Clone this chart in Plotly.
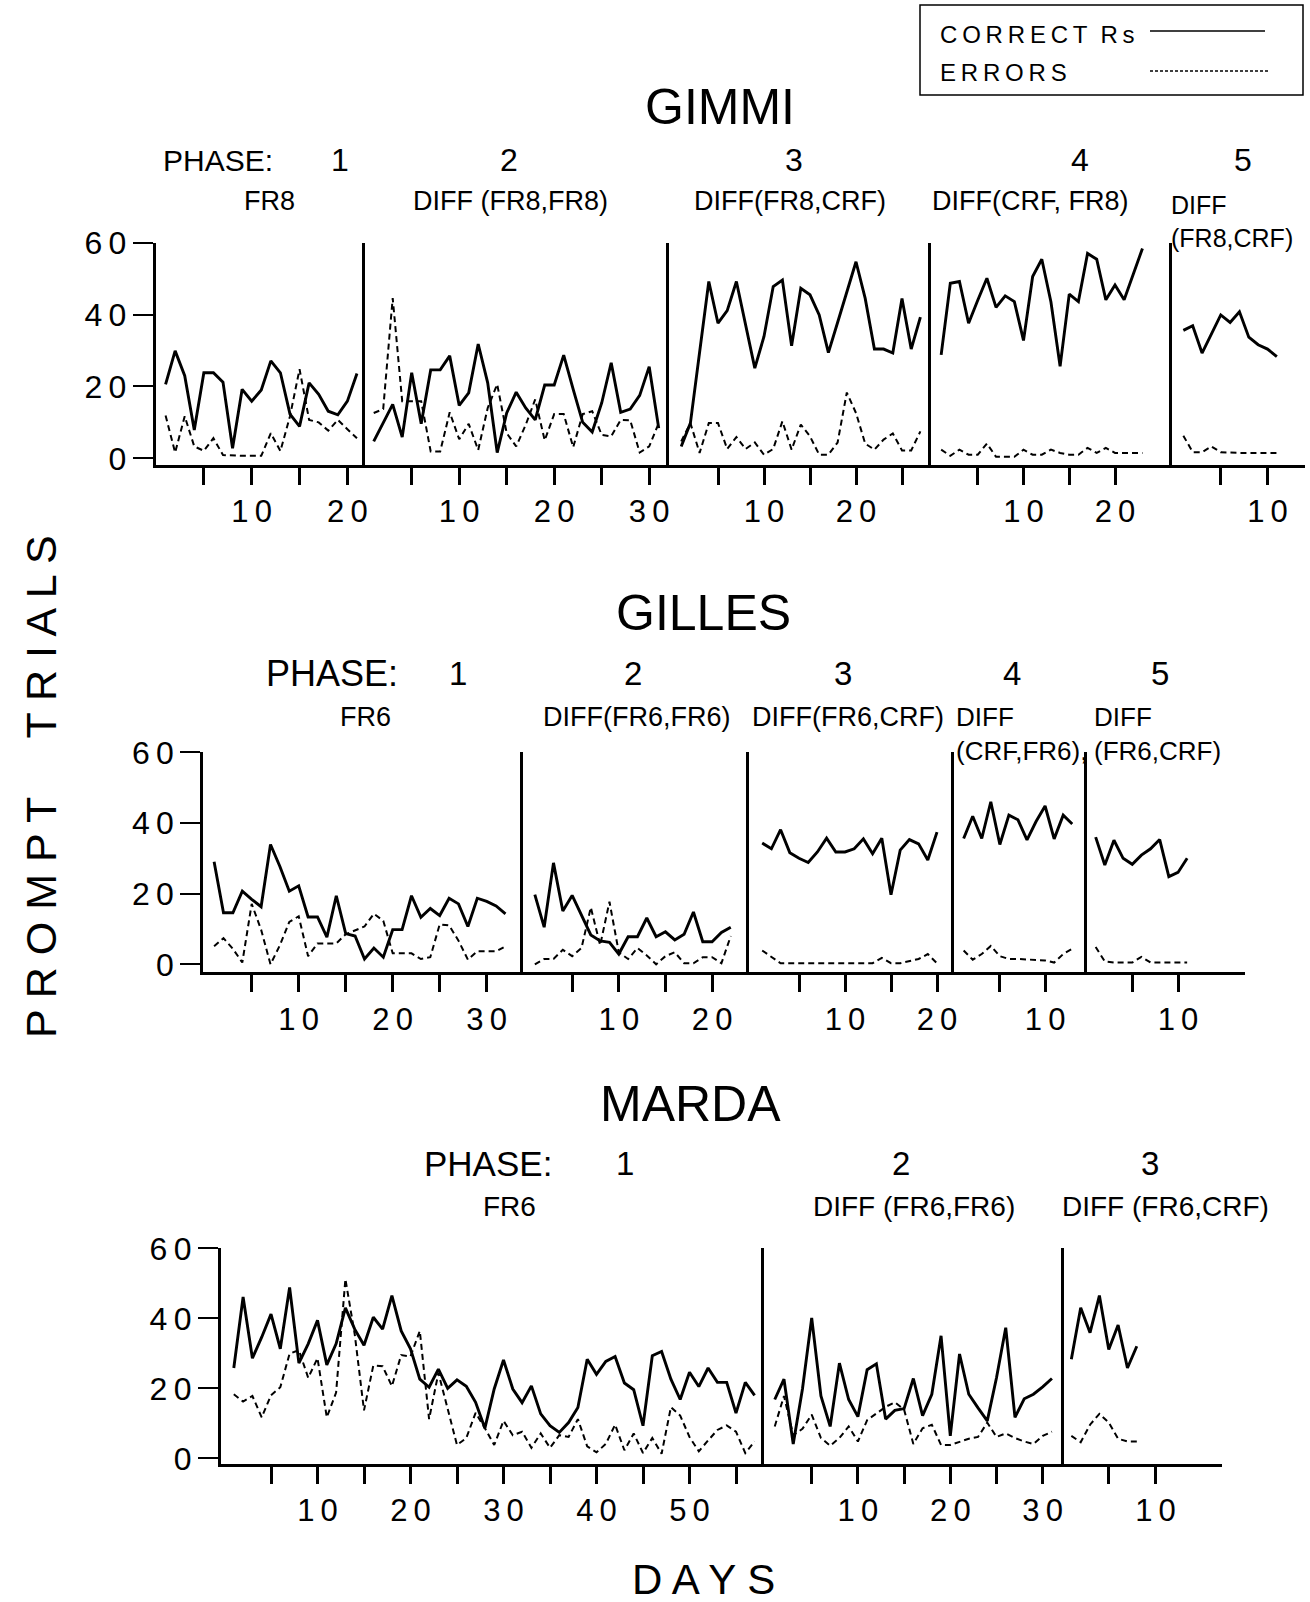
import plotly.graph_objects as go

W, H = 1310, 1602

# ---------------- data ----------------
# GIMMI
gimmi_p1_correct = [20.6, 29.9, 23.0, 7.9, 23.8, 23.8, 21.2, 2.8, 19.2, 15.9, 19.0, 27.1, 23.8, 12.3, 8.9, 21.0, 17.8, 13.1, 12.1, 15.9, 23.6]
gimmi_p1_errors = [11.9, 1.6, 11.7, 3.3, 2.1, 5.6, 0.9, 0.7, 0.7, 0.7, 0.7, 7.0, 2.0, 11.7, 24.8, 10.7, 10.0, 7.7, 10.7, 8.1, 5.6]
gimmi_p2_correct = [4.7, 10.0, 15.0, 5.9, 23.8, 9.6, 24.6, 24.6, 28.5, 14.7, 18.2, 31.8, 21.0, 1.6, 12.6, 18.4, 14.0, 10.7, 20.4, 20.4, 28.7, 19.2, 10.0, 7.3, 15.4, 26.6, 12.8, 13.7, 17.5, 25.5, 8.4]
gimmi_p2_errors = [12.6, 13.7, 44.6, 15.9, 15.9, 15.9, 1.9, 1.9, 12.8, 5.3, 9.6, 2.3, 14.0, 20.6, 7.0, 3.3, 9.3, 16.4, 5.0, 12.3, 12.3, 3.1, 12.3, 13.1, 6.5, 6.1, 10.7, 10.6, 1.6, 3.3, 9.8]
gimmi_p3_correct = [3.3, 9.8, 29.5, 49.2, 37.6, 41.1, 49.2, 37.1, 25.1, 33.9, 47.8, 49.6, 31.3, 47.3, 45.5, 39.9, 29.4, 37.8, 46.4, 54.7, 44.5, 30.4, 30.4, 29.3, 44.5, 30.4, 39.3]
gimmi_p3_errors = [4.7, 9.8, 1.5, 9.8, 9.8, 2.6, 5.9, 2.6, 4.4, 1.0, 2.6, 10.3, 2.4, 9.4, 6.1, 1.0, 1.0, 4.4, 18.3, 12.6, 4.1, 2.4, 5.2, 6.9, 2.2, 2.2, 7.5]
gimmi_p4_correct = [28.8, 48.7, 49.2, 37.6, 44.0, 50.1, 42.0, 45.2, 43.6, 32.8, 50.6, 55.4, 43.5, 25.6, 45.7, 43.6, 57.0, 55.4, 44.1, 48.2, 44.1, 51.5, 58.4]
gimmi_p4_errors = [2.4, 0.7, 2.4, 1.0, 1.0, 4.1, 0.4, 0.4, 0.4, 2.4, 1.0, 1.0, 2.4, 1.5, 1.0, 1.0, 2.9, 1.5, 2.9, 1.5, 1.5, 1.5, 1.5]
gimmi_p5_correct = [35.6, 36.9, 29.3, 34.8, 39.9, 37.8, 40.8, 33.7, 31.6, 30.4, 28.3]
gimmi_p5_errors = [6.3, 1.7, 1.7, 3.3, 1.7, 1.5, 1.5, 1.5, 1.5, 1.5, 1.5]

# GILLES
gilles_p1_correct = [29.0, 14.6, 14.6, 20.7, 18.4, 16.3, 33.9, 27.7, 20.7, 22.2, 13.4, 13.4, 7.7, 19.4, 8.7, 8.0, 1.5, 4.6, 2.0, 9.8, 9.8, 19.4, 13.3, 15.8, 13.8, 18.7, 17.1, 10.7, 18.7, 17.8, 16.5, 14.3]
gilles_p1_errors = [5.1, 7.4, 4.4, 0.5, 17.1, 9.8, 0.0, 5.4, 12.0, 13.6, 2.3, 5.9, 5.9, 5.9, 8.5, 9.7, 10.7, 14.3, 12.3, 3.1, 3.1, 3.1, 1.5, 2.0, 11.3, 11.0, 6.7, 1.3, 3.7, 3.7, 3.7, 5.1]
gilles_p2_correct = [19.7, 10.5, 28.7, 15.1, 19.5, 14.1, 8.3, 6.6, 6.2, 2.9, 7.8, 7.8, 13.1, 7.8, 9.2, 6.9, 8.5, 14.8, 6.4, 6.4, 9.0, 10.5]
gilles_p2_errors = [0.0, 1.5, 1.5, 4.1, 2.3, 4.6, 16.1, 5.4, 17.7, 3.4, 1.5, 4.6, 2.5, 0.0, 2.3, 3.4, 0.3, 0.3, 2.0, 2.0, 0.3, 8.0]
gilles_p3_correct = [34.3, 32.7, 38.1, 31.6, 30.0, 28.8, 31.8, 35.7, 31.8, 31.8, 32.7, 35.5, 31.3, 35.7, 19.7, 32.3, 35.3, 34.1, 29.5, 37.4]
gilles_p3_errors = [3.9, 2.1, 0.3, 0.3, 0.3, 0.3, 0.3, 0.3, 0.3, 0.3, 0.3, 0.3, 0.3, 1.8, 0.3, 0.3, 0.8, 1.5, 2.9, 0.3]
gilles_p4_correct = [35.6, 41.9, 35.6, 46.0, 33.9, 42.2, 40.9, 35.2, 40.4, 44.8, 35.5, 42.2, 39.7]
gilles_p4_errors = [3.9, 1.3, 2.9, 5.2, 2.3, 1.5, 1.5, 1.3, 1.3, 1.1, 0.5, 2.9, 4.4]
gilles_p5_correct = [36.0, 28.1, 35.1, 30.0, 28.3, 30.9, 32.7, 35.3, 24.8, 26.0, 30.0]
gilles_p5_errors = [4.9, 0.8, 0.5, 0.5, 0.5, 2.1, 0.5, 0.5, 0.5, 0.5, 0.5]

# MARDA
marda_p1_correct = [25.8, 46.1, 28.6, 34.6, 41.2, 31.3, 48.8, 27.2, 32.7, 39.4, 26.7, 32.7, 43.0, 36.9, 32.3, 40.3, 36.9, 46.5, 36.4, 31.3,
                    22.6, 20.3, 25.5, 20.0, 22.4, 20.6, 16.0, 8.6, 19.8, 28.1, 19.8, 15.9, 20.7, 12.7, 9.3, 7.4, 10.2, 14.5, 28.3, 24.0,
                    27.7, 29.1, 21.5, 19.6, 9.3, 29.3, 30.5, 22.6, 16.8, 24.6, 20.5, 25.8, 21.7, 21.7, 12.9, 21.7, 18.0]
marda_p1_errors = [18.3, 16.2, 17.8, 11.7, 18.0, 20.3, 29.9, 30.9, 23.0, 28.6, 11.7, 18.8, 51.2, 35.5, 13.7, 26.5, 26.3, 20.6, 29.5, 29.1,
                   36.4, 11.2, 24.4, 13.7, 3.8, 5.8, 13.0, 8.6, 3.8, 10.7, 6.6, 7.6, 3.0, 7.1, 3.0, 6.6, 6.1, 11.2, 3.4, 1.7,
                   4.1, 9.6, 2.3, 7.1, 1.5, 5.8, 1.3, 14.6, 12.2, 6.1, 2.0, 5.1, 8.1, 9.4, 7.6, 1.5, 4.8]
marda_p2_correct = [16.8, 22.6, 4.1, 19.8, 40.1, 17.8, 9.1, 27.2, 16.8, 11.9, 25.3, 27.0, 11.2, 13.7, 14.2, 22.8, 12.2, 18.3, 35.0, 6.4,
                    29.8, 18.3, 14.4, 10.7, 23.0, 37.3, 11.7, 17.0, 18.3, 20.4, 22.8]
marda_p2_errors = [9.1, 17.8, 6.6, 8.4, 12.5, 5.8, 3.6, 5.8, 9.1, 4.8, 10.9, 12.8, 14.7, 16.0, 13.9, 4.1, 8.6, 9.6, 3.8, 3.8,
                   4.8, 5.6, 6.1, 10.2, 6.1, 7.1, 5.8, 4.8, 4.1, 6.4, 7.6]
marda_p3_correct = [28.3, 43.0, 35.9, 46.5, 31.1, 38.1, 25.8, 32.0]
marda_p3_errors = [6.4, 4.6, 9.6, 12.7, 10.2, 5.6, 4.8, 4.8]

y_tick_values = [0, 20, 40, 60]
gimmi_last_ticks = [20, 30, 25, 20, 10]
gilles_last_ticks = [30, 20, 20, 10, 10]
marda_last_ticks = [55, 30, 10]

gimmi_phase_nums = ["1", "2", "3", "4", "5"]
gimmi_phase_names = ["FR8", "DIFF (FR8,FR8)", "DIFF(FR8,CRF)", "DIFF(CRF, FR8)", "DIFF<br>(FR8,CRF)"]
gilles_phase_nums = ["1", "2", "3", "4", "5"]
gilles_phase_names = ["FR6", "DIFF(FR6,FR6)", "DIFF(FR6,CRF)", "DIFF<br>(CRF,FR6),", "DIFF<br>(FR6,CRF)"]
marda_phase_nums = ["1", "2", "3"]
marda_phase_names = ["FR6", "DIFF (FR6,FR6)", "DIFF (FR6,CRF)"]

# ---------------- layout geometry (pixels) ----------------
FONT = "Liberation Sans"
THIN = "\u2009"
def spaced(s):
    return THIN.join(list(s))
def px(x):
    return x / W
def py(y):
    return 1 - y / H

panels = [
    dict(name="GIMMI", y60=242.7, y0=458.3, ymin=-1.9,
         phases=[(155.8, 364.8, 156.0, 9.57), (364.8, 669.3, 364.2, 9.5), (669.3, 931.2, 672.0, 9.2),
                 (931.2, 1172.0, 932.0, 9.15), (1172.0, 1305.0, 1174.0, 9.35)],
         data=[(gimmi_p1_correct, gimmi_p1_errors), (gimmi_p2_correct, gimmi_p2_errors), (gimmi_p3_correct, gimmi_p3_errors),
               (gimmi_p4_correct, gimmi_p4_errors), (gimmi_p5_correct, gimmi_p5_errors)],
         last_ticks=gimmi_last_ticks),
    dict(name="GILLES", y60=752.3, y0=964.3, ymin=-2.3,
         phases=[(203.3, 522.8, 204.7, 9.4), (522.8, 749.1, 525.5, 9.33), (749.1, 954.0, 753.0, 9.2),
                 (954.0, 1086.7, 954.6, 9.05), (1086.7, 1245.0, 1086.5, 9.15)],
         data=[(gilles_p1_correct, gilles_p1_errors), (gilles_p2_correct, gilles_p2_errors), (gilles_p3_correct, gilles_p3_errors),
               (gilles_p4_correct, gilles_p4_errors), (gilles_p5_correct, gilles_p5_errors)],
         last_ticks=gilles_last_ticks),
    dict(name="MARDA", y60=1248.3, y0=1458.3, ymin=-1.5,
         phases=[(221.0, 764.3, 224.5, 9.3), (764.3, 1064.0, 765.5, 9.24), (1064.0, 1222.0, 1062.0, 9.35)],
         data=[(marda_p1_correct, marda_p1_errors), (marda_p2_correct, marda_p2_errors), (marda_p3_correct, marda_p3_errors)],
         last_ticks=marda_last_ticks),
]

fig = go.Figure()
layout = {}
k = 0
for panel in panels:
    ppu = (panel["y0"] - panel["y60"]) / 60.0
    ybot = panel["y0"] - panel["ymin"] * ppu
    ydom = [py(ybot), py(panel["y60"])]
    for i, ((left, right, day0, ppd), (corr, err), last) in enumerate(
            zip(panel["phases"], panel["data"], panel["last_ticks"])):
        k += 1
        xa = "xaxis" if k == 1 else f"xaxis{k}"
        ya = "yaxis" if k == 1 else f"yaxis{k}"
        xr = "x" if k == 1 else f"x{k}"
        yr = "y" if k == 1 else f"y{k}"
        r0 = (left - day0) / ppd
        r1 = (right - day0) / ppd
        tv = list(range(5, last + 1, 5))
        tt = [spaced(str(v)) if v % 10 == 0 else "" for v in tv]
        layout[xa] = dict(domain=[px(left), px(right)], range=[r0, r1], anchor=yr,
                          showgrid=False, zeroline=False, showline=True, linewidth=3, linecolor="black",
                          ticks="outside", ticklen=17, tickwidth=3, tickcolor="black",
                          tickvals=tv, ticktext=tt, automargin=False,
                          tickfont=dict(family=FONT, size=31, color="black"))
        yd = dict(domain=ydom, range=[panel["ymin"], 60], anchor=xr,
                  showgrid=False, zeroline=False, showline=True, linewidth=3, linecolor="black",
                  automargin=False)
        if i == 0:
            yd.update(ticks="outside", ticklen=20, tickwidth=2, tickcolor="black",
                      tickvals=y_tick_values, ticktext=[spaced(str(v)) for v in y_tick_values],
                      tickfont=dict(family=FONT, size=32, color="black"))
        else:
            yd.update(ticks="", showticklabels=False)
        layout[ya] = yd
        days = list(range(1, len(corr) + 1))
        fig.add_trace(go.Scatter(x=days, y=corr, xaxis=xr, yaxis=yr, mode="lines",
                                 line=dict(color="black", width=2.9), name="CORRECT Rs",
                                 showlegend=False, hoverinfo="skip"))
        days_e = list(range(1, len(err) + 1))
        fig.add_trace(go.Scatter(x=days_e, y=err, xaxis=xr, yaxis=yr, mode="lines",
                                 line=dict(color="black", width=2, dash="6px,4px"), name="ERRORS",
                                 showlegend=False, hoverinfo="skip"))

annotations = []
def text(t, x, y, size, xanchor="center", yanchor="middle", angle=0, align="center"):
    annotations.append(dict(text=t, x=px(x), y=py(y), xref="paper", yref="paper", showarrow=False,
                            xanchor=xanchor, yanchor=yanchor, textangle=angle, align=align,
                            font=dict(family=FONT, size=size, color="black")))

# GIMMI header
text("GIMMI", 720, 107, 50)
text("PHASE:", 161, 160, 30, xanchor="left")
for t, x in zip(gimmi_phase_nums, [340, 509, 794, 1080, 1243]):
    text(t, x, 160, 32)
for t, x in zip(gimmi_phase_names[:4], [269, 510, 790, 1030]):
    text(t, x, 201, 27)
text(gimmi_phase_names[4], 1169, 221, 25, xanchor="left", align="left")

# GILLES header
text("GILLES", 703, 613, 50)
text("PHASE:", 264, 674, 36, xanchor="left")
for t, x in zip(gilles_phase_nums, [458, 633, 843, 1012, 1160]):
    text(t, x, 674, 33)
for t, x in zip(gilles_phase_names[:3], [365, 636, 848]):
    text(t, x, 717, 27)
text(gilles_phase_names[3], 954, 734, 26, xanchor="left", align="left")
text(gilles_phase_names[4], 1092, 734, 26, xanchor="left", align="left")

# MARDA header
text("MARDA", 690, 1104, 50)
text("PHASE:", 422, 1163, 35, xanchor="left")
for t, x in zip(marda_phase_nums, [625, 901, 1150]):
    text(t, x, 1163, 33)
for t, x in zip(marda_phase_names, [509, 914, 1165]):
    text(t, x, 1206, 28)

# axis titles
text("P R O M P T &nbsp; &nbsp; T R I A L S", 41, 787, 43, angle=-90)
text("D A Y S", 703, 1579, 42)

# legend box
text(spaced("CORRECT") + "  " + spaced("Rs"), 938, 34, 24, xanchor="left")
text(spaced("ERRORS"), 938, 72, 24, xanchor="left")
shapes = [
    dict(type="rect", xref="paper", yref="paper", x0=px(920), x1=px(1303), y0=py(95), y1=py(5),
         line=dict(color="black", width=1.5)),
    dict(type="line", xref="paper", yref="paper", x0=px(1150), x1=px(1265), y0=py(31), y1=py(31),
         line=dict(color="black", width=1.5)),
    dict(type="line", xref="paper", yref="paper", x0=px(1150), x1=px(1269), y0=py(71), y1=py(71),
         line=dict(color="black", width=1.5, dash="3px,2px")),
]

fig.update_layout(width=W, height=H, margin=dict(l=0, r=0, t=0, b=0),
                  paper_bgcolor="white", plot_bgcolor="rgba(0,0,0,0)",
                  template="none", showlegend=False,
                  annotations=annotations, shapes=shapes, **layout)

fig.write_html("out.html")
